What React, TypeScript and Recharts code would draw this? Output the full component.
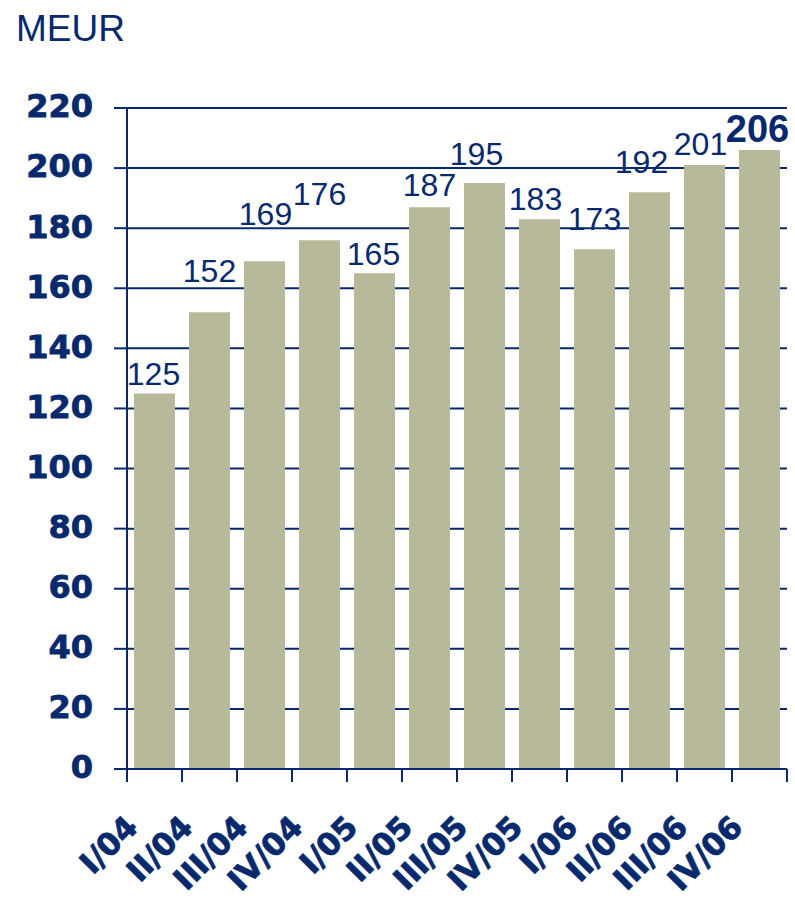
import React from "react";
import {
  BarChart,
  Bar,
  XAxis,
  YAxis,
  CartesianGrid,
  LabelList,
} from "recharts";

// Quarterly figures in MEUR
const quarters = [
  "I/04", "II/04", "III/04", "IV/04",
  "I/05", "II/05", "III/05", "IV/05",
  "I/06", "II/06", "III/06", "IV/06",
];
const values = [125, 152, 169, 176, 165, 187, 195, 183, 173, 192, 201, 206];
const yTicks = [0, 20, 40, 60, 80, 100, 120, 140, 160, 180, 200, 220];

// Placement of each value label relative to the top of its bar (px)
const labelRise = [8, 30, 36, 35, 8, 11, 18, 9, 19, 19, 10, 8];
const labelShift = [-1, 0, 1, 0, -1, 0, -8, -4, 0, -8, -4, -2];

const NAVY = "#082A6C";
const BAR = "#B8B89A";

const data = quarters.map((q, i) => ({ quarter: q, value: values[i] }));

// Category label plus tick marks on the boundaries between quarters
const QuarterTick = (props: any) => {
  const { x, y, payload, index } = props;
  const half = payload && payload.offset ? payload.offset : 27.5;
  const isLast = index === quarters.length - 1;
  return (
    <g>
      <line
        x1={x - half}
        x2={x - half}
        y1={y}
        y2={y + 13}
        stroke={NAVY}
        strokeWidth={2}
      />
      {isLast && (
        <line
          x1={x + half}
          x2={x + half}
          y1={y}
          y2={y + 13}
          stroke={NAVY}
          strokeWidth={2}
        />
      )}
      <g transform={`translate(${x - 15},${y + 60})`}>
        <text
          x={0}
          y={0}
          transform="rotate(-45)"
          textAnchor="end"
          fill={NAVY}
          stroke={NAVY}
          strokeWidth={0.8}
          fontFamily="'DejaVu Sans', sans-serif"
          fontWeight="bold"
          fontSize={31}
        >
          {payload.value}
        </text>
      </g>
    </g>
  );
};

const ValueLabel = (props: any) => {
  const { x, y, width, value, index } = props;
  const last = index === values.length - 1;
  return (
    <text
      x={x + width / 2 + labelShift[index]}
      y={y - labelRise[index]}
      textAnchor="middle"
      fill={NAVY}
      fontFamily="'Liberation Sans', Arial, sans-serif"
      fontWeight={last ? "bold" : "normal"}
      fontSize={last ? 38 : 32}
    >
      {value}
    </text>
  );
};

export default function App() {
  return (
    <div
      style={{
        position: "absolute",
        left: 0,
        top: 0,
        width: 795,
        height: 899,
        background: "#fff",
      }}
    >
      <div
        style={{
          position: "absolute",
          left: 16,
          top: 10,
          fontFamily: "'Liberation Sans', Arial, sans-serif",
          fontSize: 37,
          lineHeight: "37px",
          color: NAVY,
        }}
      >
        MEUR
      </div>
      <BarChart
        width={795}
        height={899}
        data={data}
        margin={{ top: 108, right: 8, bottom: 0, left: 0 }}
        barSize={41}
      >
        <CartesianGrid
          horizontal
          vertical={false}
          stroke={NAVY}
          strokeWidth={2}
          strokeOpacity={1}
        />
        <XAxis
          dataKey="quarter"
          height={130}
          axisLine={{ stroke: NAVY, strokeWidth: 2 }}
          tickLine={false}
          tickSize={0}
          tickMargin={0}
          interval={0}
          tick={<QuarterTick />}
        />
        <YAxis
          width={127}
          domain={[0, 220]}
          ticks={yTicks}
          interval={0}
          tickSize={13}
          tickMargin={21}
          axisLine={{ stroke: NAVY, strokeWidth: 2 }}
          tickLine={{ stroke: NAVY, strokeWidth: 2 }}
          tick={{
            fill: NAVY,
            stroke: NAVY,
            strokeWidth: 0.8,
            fontFamily: "'DejaVu Sans', sans-serif",
            fontWeight: "bold",
            fontSize: 32,
            dy: -2,
          }}
        />
        <Bar dataKey="value" fill={BAR} isAnimationActive={false}>
          <LabelList dataKey="value" content={<ValueLabel />} />
        </Bar>
      </BarChart>
    </div>
  );
}
